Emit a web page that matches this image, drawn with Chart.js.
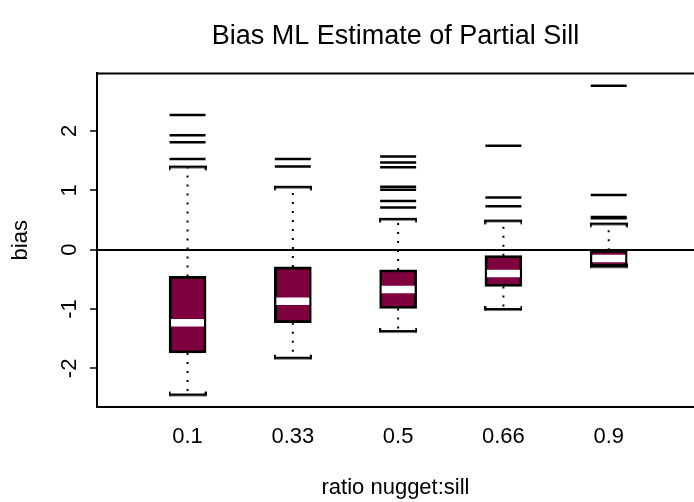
<!DOCTYPE html>
<html>
<head>
<meta charset="utf-8">
<script src="https://cdn.jsdelivr.net/npm/chart.js@4.4.1/dist/chart.umd.min.js"></script>
<style>
  html, body { margin: 0; padding: 0; background: #fff; overflow: hidden; }
  #wrap { width: 694px; height: 502px; }
</style>
</head>
<body>
<div id="wrap"><canvas id="myBoxChart" width="694" height="502"></canvas></div>
<script>
// values
var categories = ["0.1", "0.33", "0.5", "0.66", "0.9"];
var q1 = [-1.74, -1.23, -0.99, -0.62, -0.28];
var q3 = [-0.45, -0.29, -0.34, -0.10, -0.01];
var medians = [-1.23, -0.87, -0.67, -0.40, -0.15];
var lowWhisker = [-2.44, -1.82, -1.37, -1.00, -0.28];
var highWhisker = [1.40, 1.06, 0.52, 0.49, 0.44];
var outliers = [
  [1.53, 1.81, 1.93, 2.27],
  [1.40, 1.53],
  [0.71, 0.82, 1.01, 1.06, 1.39, 1.47, 1.57],
  [0.73, 0.88, 1.75],
  [0.53, 0.55, 0.92, 2.76]
];
var yTicks = [-2, -1, 0, 1, 2];

var boxColor = "#7f003f";
var fontFam = "'Liberation Sans', Arial, sans-serif";

// little bracket shaped staples, hooks point toward the box
function makeStaple(hooksDown) {
  var c = document.createElement("canvas");
  c.width = 38;
  c.height = 12;
  var g = c.getContext("2d");
  g.fillStyle = "#000";
  g.fillRect(1, 5, 36, 2.5);
  if (hooksDown) {
    g.fillRect(0, 5, 2, 4.5);
    g.fillRect(36, 5, 2, 4.5);
  } else {
    g.fillRect(0, 3, 2, 4.5);
    g.fillRect(36, 3, 2, 4.5);
  }
  return c;
}
var stapleLow = makeStaple(false);
var stapleHigh = makeStaple(true);

var boxData = [];
var medData = [];
var stapleData = [];
var whiskerData = [];
var outData = [];
for (var i = 0; i < categories.length; i++) {
  var x = i + 1;
  boxData.push({ x: x, y: [q1[i], q3[i]] });
  medData.push({ x: x, y: medians[i] });
  stapleData.push({ x: x, y: lowWhisker[i] });
  stapleData.push({ x: x, y: highWhisker[i] });
  // dotted whiskers, NaN breaks the line between pieces
  whiskerData.push({ x: x, y: q3[i] }, { x: x, y: highWhisker[i] }, { x: x, y: NaN });
  whiskerData.push({ x: x, y: q1[i] }, { x: x, y: lowWhisker[i] }, { x: x, y: NaN });
  for (var j = 0; j < outliers[i].length; j++) {
    outData.push({ x: x, y: outliers[i][j] });
  }
}

// rotated y tick labels + top frame line
var extras = {
  id: "extras",
  afterDraw: function(chart) {
    var ctx = chart.ctx;
    var a = chart.chartArea;
    var ys = chart.scales.y;
    ctx.save();
    ctx.strokeStyle = "#000";
    ctx.lineWidth = 2;
    ctx.beginPath();
    ctx.moveTo(a.left - 1, a.top);
    ctx.lineTo(a.right, a.top);
    ctx.stroke();
    ctx.fillStyle = "#000";
    ctx.font = "22px " + fontFam;
    ctx.textAlign = "center";
    ctx.textBaseline = "middle";
    yTicks.forEach(function(v) {
      ctx.save();
      ctx.translate(a.left - 27, ys.getPixelForValue(v));
      ctx.rotate(-Math.PI / 2);
      ctx.fillText(String(v), 0, 0);
      ctx.restore();
    });
    ctx.restore();
  }
};

var chart = new Chart(document.getElementById("myBoxChart"), {
  data: {
    datasets: [{
      type: "scatter",
      data: medData,
      pointStyle: "line",
      pointRadius: 16.5,
      pointBorderWidth: 7.5,
      pointBorderColor: "#fff",
      order: 0
    }, {
      type: "bar",
      data: boxData,
      backgroundColor: boxColor,
      borderColor: "#000",
      borderWidth: 2.8,
      borderSkipped: false,
      barThickness: 37,
      grouped: false,
      order: 1
    }, {
      type: "scatter",
      data: whiskerData,
      showLine: true,
      spanGaps: false,
      borderColor: "#000",
      borderWidth: 2,
      borderDash: [2, 7],
      pointRadius: 0,
      order: 2
    }, {
      type: "scatter",
      data: stapleData,
      pointStyle: function(ctx) {
        return ctx.dataIndex % 2 ? stapleHigh : stapleLow;
      },
      order: 1
    }, {
      type: "scatter",
      data: outData,
      pointStyle: "line",
      pointRadius: 18,
      pointBorderWidth: 2.5,
      pointBorderColor: "#000",
      order: 1
    }]
  },
  options: {
    responsive: false,
    animation: false,
    devicePixelRatio: 1,
    layout: { padding: 0, autoPadding: false },
    plugins: {
      legend: { display: false },
      tooltip: { enabled: false },
      title: {
        display: true,
        text: "Bias ML Estimate of Partial Sill",
        color: "#000",
        fullSize: false,
        font: { family: fontFam, size: 27, weight: "normal" },
        padding: { top: 20, bottom: 21 }
      }
    },
    scales: {
      x: {
        type: "linear",
        offset: false,
        min: 0.14,
        max: 5.81,
        afterBuildTicks: function(scale) {
          scale.ticks = categories.map(function(c, i) { return { value: i + 1 }; });
        },
        afterFit: function(scale) {
          scale.height = 95;
          scale.paddingLeft = 0;
          scale.paddingRight = 0;
        },
        ticks: {
          color: "#000",
          padding: 17,
          font: { family: fontFam, size: 22 },
          callback: function(v) { return categories[v - 1]; }
        },
        grid: { display: false, drawTicks: false, offset: false },
        border: { display: true, color: "#000", width: 2 },
        title: {
          display: true,
          text: "ratio nugget:sill",
          color: "#000",
          font: { family: fontFam, size: 22 },
          padding: { top: 0, bottom: 1 }
        }
      },
      y: {
        min: -2.65,
        max: 2.97,
        afterBuildTicks: function(scale) {
          scale.ticks = yTicks.map(function(v) { return { value: v }; });
        },
        afterFit: function(scale) { scale.width = 97; },
        ticks: { display: false },
        grid: {
          drawOnChartArea: true,
          drawTicks: true,
          tickLength: 7,
          tickWidth: 1.5,
          tickColor: "#000",
          lineWidth: 2,
          color: function(ctx) {
            return ctx.tick && ctx.tick.value === 0 ? "#000" : "rgba(0,0,0,0)";
          }
        },
        border: { display: true, color: "#000", width: 2 },
        title: {
          display: true,
          text: "bias",
          color: "#000",
          font: { family: fontFam, size: 22 },
          padding: { top: 8, bottom: 0 }
        }
      }
    }
  },
  plugins: [extras]
});
</script>
</body>
</html>
